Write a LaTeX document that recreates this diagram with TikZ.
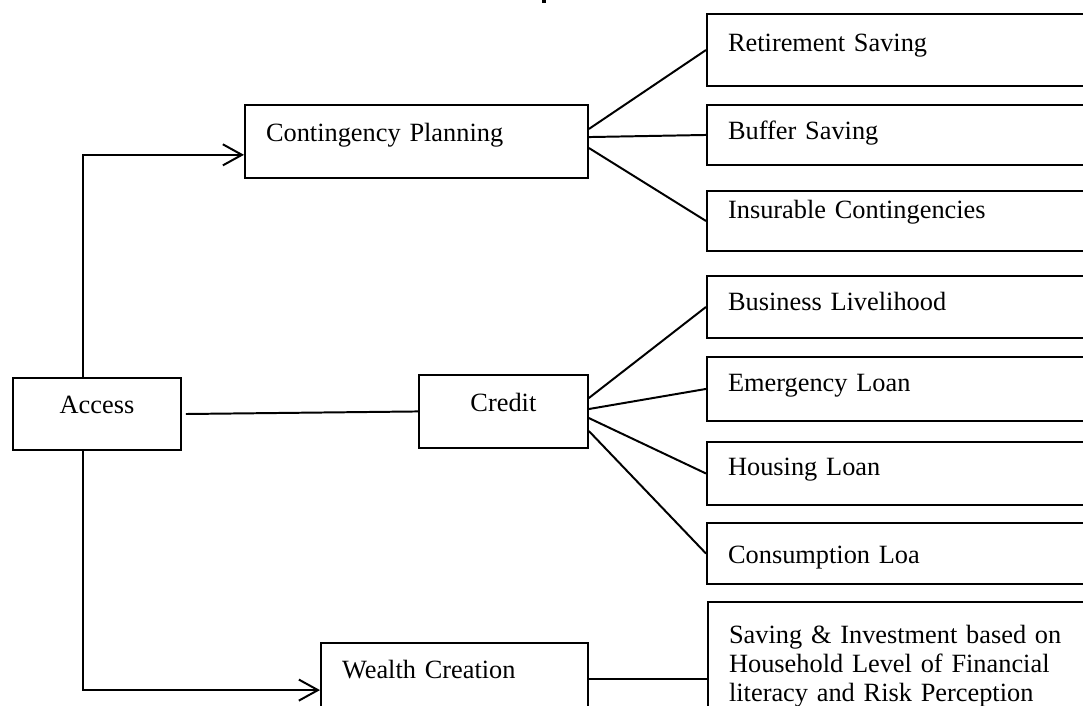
\documentclass[tikz,border=0pt]{standalone}
\usepackage{fontspec}
\setmainfont{Liberation Serif}
\usetikzlibrary{arrows.meta}

\begin{document}
\begin{tikzpicture}[
    x=0.016cm, y=-0.016cm,
    font=\fontsize{12}{13.2}\selectfont,
    mainbox/.style={draw, line width=0.9pt, anchor=north west, inner xsep=9.6pt, inner ysep=0pt, align=left},
    leaf/.style={mainbox, text width=172pt, text height=15.5pt, text depth=13pt},
    link/.style={line width=0.9pt},
    arrowline/.style={link, -{Straight Barb[length=8.7pt, width=9.6pt]}}
]
    \clip (0,0) rectangle (1083,705);

    % Left column
    \node[mainbox, align=center, minimum width=76.5pt, text height=16.2pt, text depth=16.6pt] (access) at (12,377) {Access};
    \node[mainbox, text width=137pt, text height=16.8pt, text depth=16.4pt] (cp) at (244,104) {Contingency Planning};
    \node[mainbox, align=center, minimum width=76.9pt, text height=16.6pt, text depth=16.6pt] (credit) at (418,374) {Credit};
    \node[mainbox, text width=102.4pt, text height=16.2pt, text depth=20pt] (wc) at (320,642) {Wealth Creation};

    % Right column
    \node[leaf, text height=17.1pt, text depth=15.7pt] (rs) at (706,13) {Retirement Saving};
    \node[leaf, text depth=11.8pt] (bs) at (706,104) {Buffer Saving};
    \node[leaf, text height=12.5pt, text depth=14.8pt] (ic) at (706,190) {Insurable Contingencies};
    \node[leaf, text depth=12.7pt] (bl) at (706,275) {Business Livelihood};
    \node[leaf, text height=15.7pt, text depth=13.4pt] (el) at (706,356) {Emergency Loan};
    \node[leaf, text height=15.3pt, text depth=13.4pt] (hl) at (706,441) {Housing Loan};
    \node[leaf, text height=18.4pt, text depth=9.4pt] (cl) at (706,522) {Consumption Loa};
    \node[leaf, text height=19.1pt, text depth=40pt] (sv) at (707,601) {Saving \& Investment based on\\Household Level of Financial\\literacy and Risk Perception};

    % Access branches
    \draw[arrowline] ([xshift=-6.4pt]access.north) |- ([yshift=-6.1pt]cp.west);
    \draw[arrowline] ([xshift=-6.4pt]access.south) |- ([yshift=-21.9pt]wc.north west);
    \draw[link] ([xshift=1.8pt]access.east) -- (credit.west);

    % Fans
    \foreach \kid/\dy in {rs/5.7pt, bs/2pt, ic/-3pt}
        \draw[link] ([yshift=\dy]cp.east) -- (\kid.west);
    \foreach \kid/\dy in {bl/6.1pt, el/1.1pt, hl/-3pt, cl/-8.9pt}
        \draw[link] ([yshift=\dy]credit.east) -- (\kid.west);

    \coordinate (wcout) at ([yshift=-16.8pt]wc.north east);
    \draw[link] (wcout) -- (wcout -| sv.west);

    % cut-off mark at the top
    \draw[line width=1.4pt] (544,-3) -- (544,3);
\end{tikzpicture}
\end{document}
